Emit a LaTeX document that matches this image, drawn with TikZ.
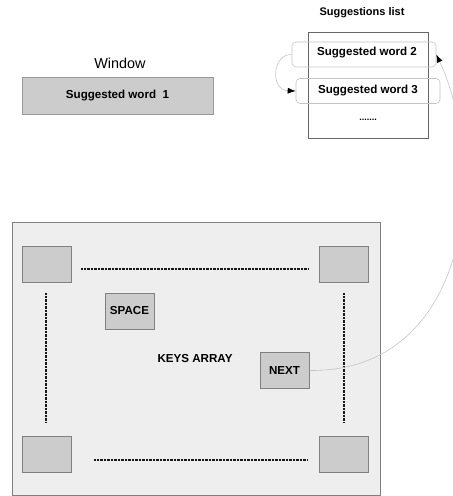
\documentclass[tikz,border=0pt]{standalone}
\usepackage{fontspec}
\setmainfont{Liberation Sans}
\usetikzlibrary{arrows.meta}
\definecolor{keyfill}{HTML}{CCCCCC}
\definecolor{keyline}{HTML}{808080}
\definecolor{padfill}{HTML}{EEEEEE}
\definecolor{curvegray}{HTML}{C4C4C4}
\tikzset{>=stealth,
  key/.style={draw=keyline,fill=keyfill,line width=1pt,minimum width=49pt,
    minimum height=36pt,inner sep=0pt,font=\bfseries\fontsize{11.6}{12}\selectfont},
  wordbox/.style={draw=curvegray,rounded corners=4pt,line width=0.6pt,
    minimum width=144pt,minimum height=25pt,inner sep=0pt},
  dots/.style={line width=2.4pt,black!90,dash pattern=on 0.9pt off 0.5pt},
  swap/.style={curvegray,line width=0.6pt,-{Latex[length=8pt,width=6pt,color=black]}}}

\begin{document}
\begin{tikzpicture}[x=1pt,y=-1pt]
\useasboundingbox (0,0) rectangle (453,496);
\clip (0,0) rectangle (453,496);
\node[font=\fontsize{14.4}{16}\selectfont] (wtitle) at (120,63) {Window};
\node[draw=keyline!80,fill=keyfill,line width=1pt,minimum width=191pt,minimum height=37pt,
      inner sep=0pt,font=\bfseries\fontsize{11.6}{12}\selectfont] (window) at (117.5,95.5) {Suggested word\ \ 1};
\node[font=\bfseries\fontsize{11}{12}\selectfont] (ltitle) at (362,13) {Suggestions list};
\node[draw=black!60,line width=0.8pt,minimum width=120pt,minimum height=106pt,inner sep=0pt] (list) at (368,85) {};
\node[wordbox] (word2) at (364,54.5) {};
\node[wordbox] (word3) at (368,91) {};
\node[font=\bfseries\fontsize{11.6}{12}\selectfont] (w2) at (367,53) {Suggested word 2};
\node[font=\bfseries\fontsize{11.6}{12}\selectfont] (w3) at (368,91) {Suggested word 3};
\node[font=\bfseries\fontsize{9}{10}\selectfont] (more) at (368,120) {.......};
\node[draw=keyline,fill=padfill,line width=1pt,minimum width=368pt,minimum height=273pt,inner sep=0pt] (pad) at (196,358.5) {};
\node[key] (tl) at (46.5,264) {};
\node[key] (tr) at (344,264) {};
\node[key] (bl) at (46.5,454) {};
\node[key] (br) at (344,454) {};
\node[key] (space) at (129.5,311) {SPACE};
\node[key] (next) at (284.5,370.5) {NEXT};
\node[font=\bfseries\fontsize{11.6}{12}\selectfont] (keys) at (195,359) {KEYS ARRAY};
\draw[dots] (81,269) -- (308,269);
\draw[dots] (94,460) -- (308,460);
\draw[dots] (46,293) -- (46,423);
\draw[dots] (344,293) -- (344,423);
\draw[swap] (word2.west) .. controls (272,54) and (270,90) .. (word3.west);
\draw[swap] (next.east) .. controls (470,372) and (490,170) .. (word2.east);
\end{tikzpicture}
\end{document}
